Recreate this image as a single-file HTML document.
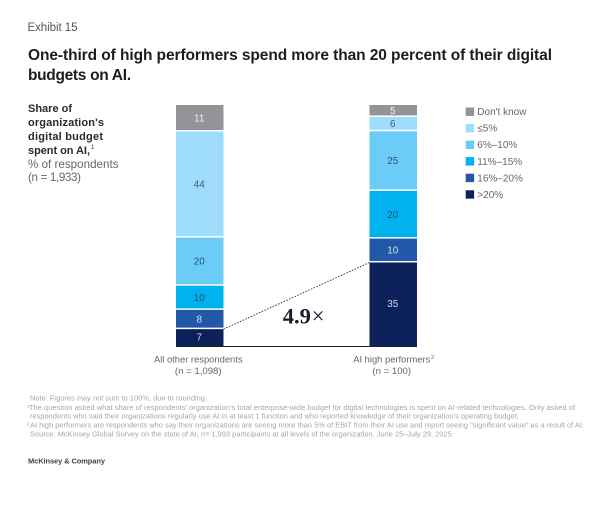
<!DOCTYPE html>
<html>
<head>
<meta charset="utf-8">
<title>Exhibit 15</title>
<style>
html,body{margin:0;padding:0;background:#fff;}
svg{display:block;font-family:"Liberation Sans",sans-serif;filter:blur(0.3px);}
.fn{font-size:7.4px;fill:#a6a6a8;}
.yl{font-size:11px;fill:#2b2b2b;font-weight:bold;}
.yr{font-size:11.6px;fill:#666;}
</style>
</head>
<body>
<svg id="chart" width="613" height="510" viewBox="0 0 613 510" xmlns="http://www.w3.org/2000/svg">
  <rect width="613" height="510" fill="#fff"/>
  <text x="27.5" y="31" font-size="11.5" fill="#555" textLength="50">Exhibit 15</text>
  <text x="28" y="60" font-size="15.5" font-weight="bold" fill="#1d1d1f" textLength="524">One-third of high performers spend more than 20 percent of their digital</text>
  <text x="28" y="80" font-size="15.5" font-weight="bold" fill="#1d1d1f" textLength="103">budgets on AI.</text>

  <text class="yl" x="28" y="112" textLength="44">Share of</text>
  <text class="yl" x="28" y="126" textLength="76">organization's</text>
  <text class="yl" x="28" y="140" textLength="75">digital budget</text>
  <text class="yl" x="28" y="154" textLength="62">spent on AI,</text>
  <text x="91" y="149" font-size="6" fill="#2b2b2b">1</text>
  <text class="yr" x="28" y="168" textLength="90.5">% of respondents</text>
  <text class="yr" x="28" y="181" textLength="53">(n = 1,933)</text>

  <g id="bars"></g>
  <g id="catlabels"></g>
  <g id="legend"></g>

  <text x="282.7" y="323.5" font-family="'Liberation Serif',serif" font-size="22.5" font-weight="bold" fill="#1b1b2b">4.9<tspan dx="0.8" font-weight="normal" font-size="23">×</tspan></text>

  <text class="fn" x="30" y="400.7" textLength="177">Note: Figures may not sum to 100%, due to rounding.</text>
  <text x="27" y="408" font-size="4.5" fill="#a6a6a8">1</text>
  <text class="fn" x="29" y="410" textLength="546">The question asked what share of respondents' organization's total enterprise-wide budget for digital technologies is spent on AI-related technologies. Only asked of</text>
  <text class="fn" x="30" y="418.7" textLength="489">respondents who said their organizations regularly use AI in at least 1 function and who reported knowledge of their organization's operating budget.</text>
  <text x="27" y="425.5" font-size="4.5" fill="#a6a6a8">2</text>
  <text class="fn" x="30" y="427.7" textLength="554">AI high performers are respondents who say their organizations are seeing more than 5% of EBIT from their AI use and report seeing "significant value" as a result of AI.</text>
  <text class="fn" x="30" y="436.7" textLength="421.7">Source: McKinsey Global Survey on the state of AI, n= 1,993 participants at all levels of the organization, June 25–July 29, 2025</text>
  <text x="28" y="463.7" font-size="7.5" font-weight="bold" fill="#444" textLength="77">McKinsey &amp; Company</text>
</svg>
<script>
// Data
const categories = ['All other respondents', 'AI high performers'];
const sampleLabels = ['(n = 1,098)', '(n = 100)'];
const seriesNames = ['>20%', '16%–20%', '11%–15%', '6%–10%', '≤5%', "Don't know"];
const valuesOver20 = [7, 35];
const values16to20 = [8, 10];
const values11to15 = [10, 20];
const values6to10 = [20, 25];
const valuesUpTo5 = [44, 6];
const valuesDontKnow = [11, 5];

// Presentation
const allSeries = [valuesOver20, values16to20, values11to15, values6to10, valuesUpTo5, valuesDontKnow];
const fills = ['#0c2159', '#2158a8', '#00b3ef', '#6bcdf7', '#9fdcfb', '#929497'];
const labelFills = ['#d5dbe8', '#d5e2f2', '#1f4f6e', '#2a5570', '#3b5a6e', '#f0f0f0'];
const NS = 'http://www.w3.org/2000/svg';
const baseY = 346;
const topY = 105;
const barW = 47.5;
const gap = 1.5;

function barX(i) { return 176 + i * 193.5; }
function stackTotal(i) { return allSeries.reduce(function (s, a) { return s + a[i]; }, 0); }
function yScale(cum, i) { return baseY - (cum / stackTotal(i)) * (baseY - topY); }

const barsG = document.getElementById('bars');
const connectorEnds = [];
categories.forEach(function (cat, i) {
  let cum = 0;
  allSeries.forEach(function (series, s) {
    const v = series[i];
    const y0 = yScale(cum, i);
    const y1 = yScale(cum + v, i);
    const r = document.createElementNS(NS, 'rect');
    r.setAttribute('x', barX(i));
    r.setAttribute('y', y1);
    r.setAttribute('width', barW);
    r.setAttribute('height', Math.max(0, y0 - y1 - (s === 0 ? 0 : gap)));
    r.setAttribute('fill', fills[s]);
    
    
    barsG.appendChild(r);
    const t = document.createElementNS(NS, 'text');
    t.setAttribute('x', barX(i) + barW / 2 - 0.5);
    t.setAttribute('y', (y0 + y1) / 2 + 3);
    t.setAttribute('text-anchor', 'middle');
    t.setAttribute('font-size', '9.8');
    t.setAttribute('fill', labelFills[s]);
    
    
    t.textContent = v;
    barsG.appendChild(t);
    if (s === 0) { connectorEnds.push(y1); }
    cum += v;
  });
});

const conn = document.createElementNS(NS, 'line');
conn.setAttribute('x1', barX(0) + barW);
conn.setAttribute('y1', connectorEnds[0]);
conn.setAttribute('x2', barX(1));
conn.setAttribute('y2', connectorEnds[1]);
conn.setAttribute('stroke', '#333');
conn.setAttribute('stroke-width', '0.9');
conn.setAttribute('stroke-dasharray', '1.6 1.4');


barsG.appendChild(conn);

const axis = document.createElementNS(NS, 'line');
axis.setAttribute('x1', barX(0));
axis.setAttribute('y1', baseY + 0.5);
axis.setAttribute('x2', barX(1) + barW);
axis.setAttribute('y2', baseY + 0.5);
axis.setAttribute('stroke', '#222');
axis.setAttribute('stroke-width', '1');


barsG.appendChild(axis);

const catG = document.getElementById('catlabels');
categories.forEach(function (cat, i) {
  const cx = barX(i) + barW / 2 - 1.5;
  const a = document.createElementNS(NS, 'text');
  a.setAttribute('x', cx);
  a.setAttribute('y', 362.7);
  a.setAttribute('text-anchor', 'middle');
  a.setAttribute('font-size', '9.4');
  a.setAttribute('fill', '#666');
  
  
  a.textContent = cat;
  catG.appendChild(a);
  const b = document.createElementNS(NS, 'text');
  b.setAttribute('x', cx);
  b.setAttribute('y', 374);
  b.setAttribute('text-anchor', 'middle');
  b.setAttribute('font-size', '9.6');
  b.setAttribute('fill', '#666');
  
  
  b.textContent = sampleLabels[i];
  catG.appendChild(b);
});
const sup = document.createElementNS(NS, 'text');
sup.setAttribute('x', 431);
sup.setAttribute('y', 359);
sup.setAttribute('font-size', '5.5');
sup.setAttribute('fill', '#666');


sup.textContent = '2';
catG.appendChild(sup);

const legendG = document.getElementById('legend');
seriesNames.forEach(function (name, s) {
  const row = seriesNames.length - 1 - s;
  const cy = 111.7 + row * 16.55;
  const sw = document.createElementNS(NS, 'rect');
  sw.setAttribute('x', 465.7);
  sw.setAttribute('y', cy - 4.2);
  sw.setAttribute('width', 8.4);
  sw.setAttribute('height', 8.4);
  sw.setAttribute('fill', fills[s]);
  
  
  legendG.appendChild(sw);
  const t = document.createElementNS(NS, 'text');
  t.setAttribute('x', 477.3);
  t.setAttribute('y', cy + 3.4);
  t.setAttribute('font-size', '10');
  t.setAttribute('fill', '#666');
  
  
  t.textContent = name;
  legendG.appendChild(t);
});
</script>
</body>
</html>
